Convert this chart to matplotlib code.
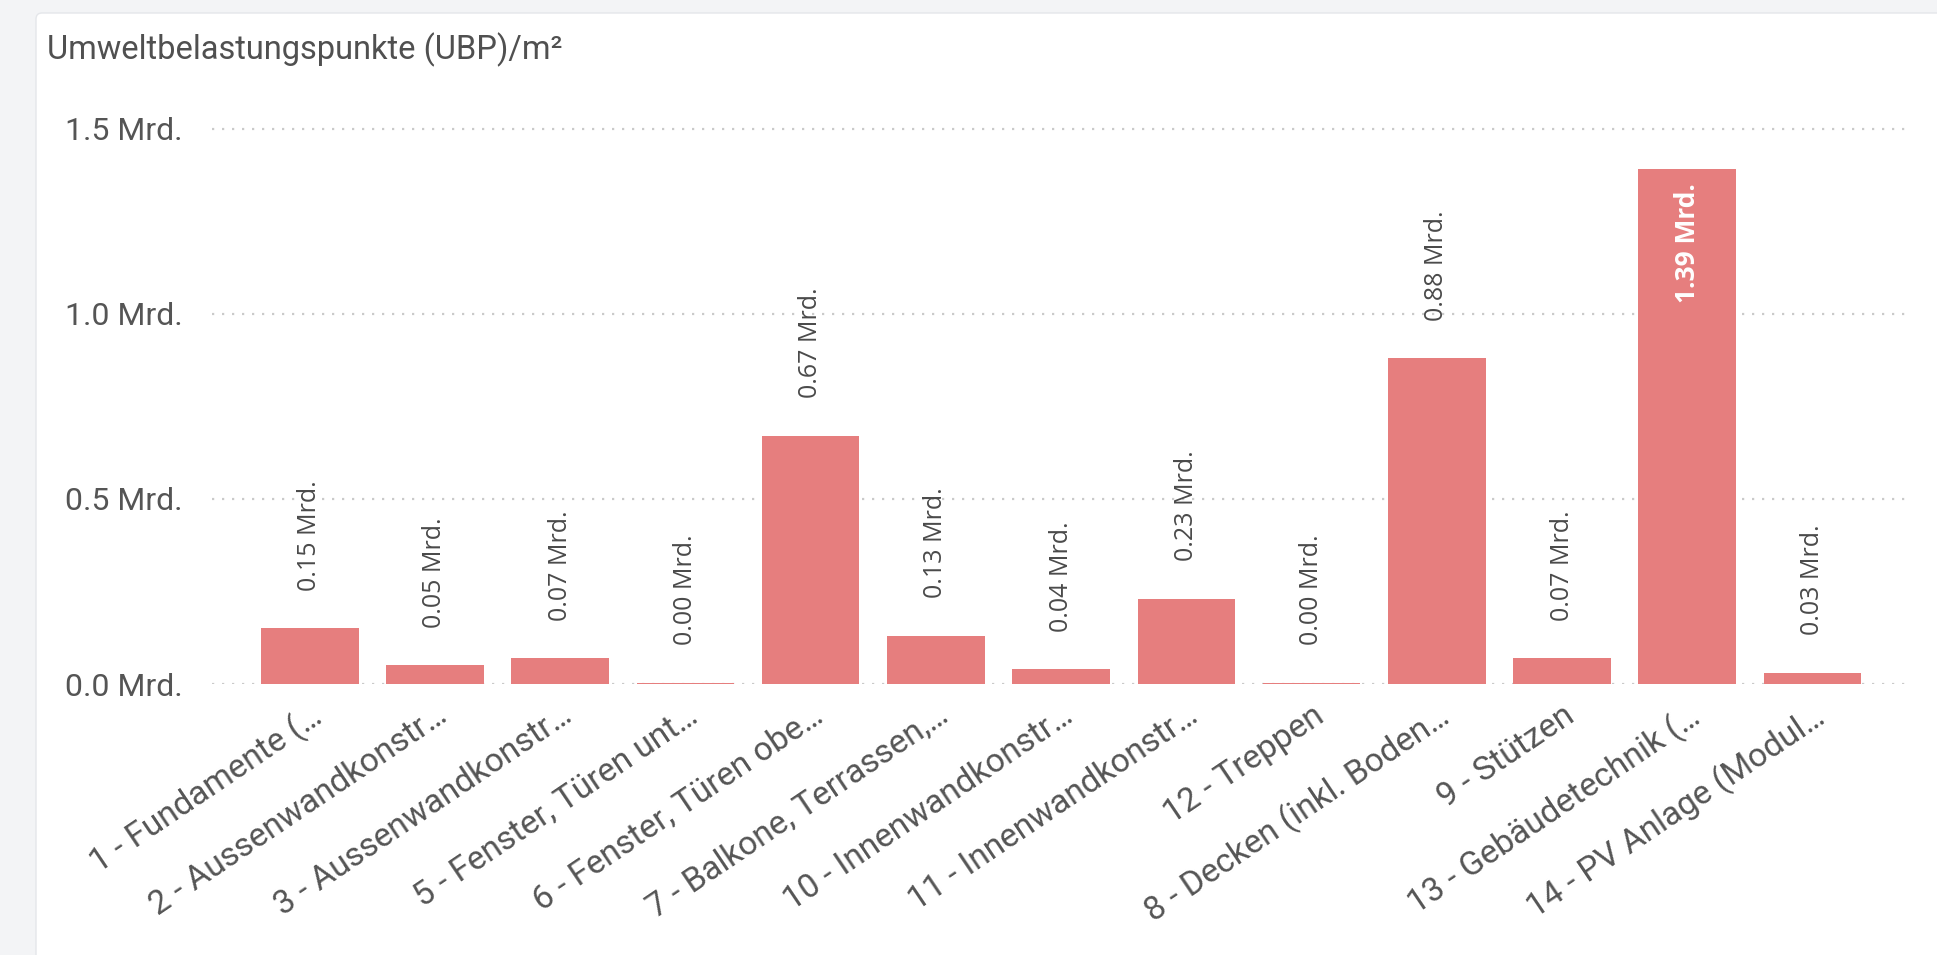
import numpy as np
import matplotlib
matplotlib.use("Agg")
import matplotlib.pyplot as plt
from matplotlib.patches import FancyBboxPatch

# data (Mrd. UBP/m2)
categories = [
    "1 - Fundamente (…",
    "2 - Aussenwandkonstr…",
    "3 - Aussenwandkonstr…",
    "5 - Fenster, Türen unt…",
    "6 - Fenster, Türen obe…",
    "7 - Balkone, Terrassen,…",
    "10 - Innenwandkonstr…",
    "11 - Innenwandkonstr…",
    "12 - Treppen",
    "8 - Decken (inkl. Boden…",
    "9 - Stützen",
    "13 - Gebäudetechnik (…",
    "14 - PV Anlage (Modul…",
]
values = [0.15, 0.05, 0.07, 0.004, 0.67, 0.13, 0.04, 0.23, 0.004, 0.88, 0.07, 1.39, 0.03]
y_ticks = [0.0, 0.5, 1.0, 1.5]
y_ticklabels = ["0.0 Mrd.", "0.5 Mrd.", "1.0 Mrd.", "1.5 Mrd."]

bar_color = "#E67E7E"
text_color = "#4a4a4a"
W, H = 1937, 955

fig = plt.figure(figsize=(W / 100, H / 100), dpi=100)
fig.patch.set_facecolor("#F3F4F6")

# white card behind the visual
bg = fig.add_axes([0, 0, 1, 1], zorder=-5)
bg.set_xlim(0, W)
bg.set_ylim(H, 0)
bg.axis("off")
bg.add_patch(FancyBboxPatch((36, 13), W + 50, H + 50,
                            boxstyle="round,pad=0,rounding_size=6",
                            facecolor="white", edgecolor="#E4E6EA", linewidth=1))

fig.text(47 / W, 1 - 50 / H, "Umweltbelastungspunkte (UBP)/m²", fontsize=23.5,
         family="Roboto", color="#505050", va="center", ha="left")

ymax = 1.55
ax = fig.add_axes([212 / W, 1 - 684 / H, (1909 - 212) / W, (684 - 110) / H])
ax.set_facecolor("none")

x = np.arange(len(categories))
ax.bar(x, values, width=0.78, color=bar_color, zorder=2)

for yv in y_ticks:
    ax.axhline(yv, color="#CACACA", linewidth=1.6, linestyle=(0, (1, 3.5)), zorder=1)

ax.set_xlim(-0.78, len(categories) - 1 + 0.77)
ax.set_ylim(0, ymax)

for xi, v in zip(x, values):
    label = f"{v:.2f} Mrd."
    if v > 1.2:
        ax.annotate(label, (xi, v), xytext=(0, -10), textcoords="offset points",
                    rotation=90, ha="center", va="top", fontsize=19,
                    family="Open Sans", color="white", fontweight="bold")
    else:
        ax.annotate(label, (xi, v), xytext=(0, 27), textcoords="offset points",
                    rotation=90, ha="center", va="bottom", fontsize=18,
                    family="Open Sans", color=text_color)

ax.set_yticks(y_ticks)
ax.set_yticklabels(y_ticklabels, family="Roboto", fontsize=23, color="#555555")
ax.set_xticks(x)
ax.set_xticklabels(categories, rotation=34, ha="right", rotation_mode="anchor",
                   family="Roboto", fontsize=24, color="#555555")
ax.tick_params(axis="y", length=0, pad=21)
ax.tick_params(axis="x", length=0, pad=11)
for s in ax.spines.values():
    s.set_visible(False)

fig.savefig("out.png", dpi=100, facecolor=fig.get_facecolor())
